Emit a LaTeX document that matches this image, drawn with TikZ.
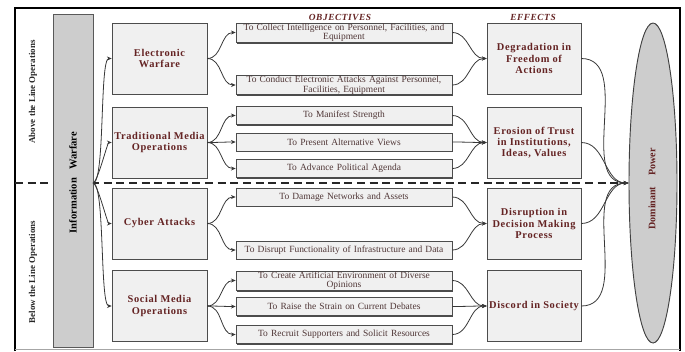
\documentclass[tikz,border=0pt]{standalone}
\usepackage{fontspec}
\setmainfont{Liberation Serif}
\newfontfamily\spacedfont[LetterSpace=6]{Liberation Serif}
\usetikzlibrary{shapes.geometric,shadows,arrows.meta}
\definecolor{boxfill}{RGB}{240,240,240}
\definecolor{iwfill}{RGB}{205,205,205}
\definecolor{labelred}{RGB}{100,35,35}
\definecolor{objtext}{RGB}{80,55,55}
\definecolor{wire}{RGB}{55,55,55}
\begin{document}
\begin{tikzpicture}[
  x=0.75pt, y=-0.75pt,
  catbox/.style={draw=black!70, fill=boxfill, minimum width=71.25pt, minimum height=53.25pt,
    inner sep=1pt, align=center, text=labelred, font=\spacedfont\fontsize{7.8}{8.4}\selectfont\bfseries},
  effbox/.style={catbox, minimum width=70.5pt},
  objbox/.style={draw=black!70, fill=boxfill, minimum width=162pt, minimum height=13.5pt,
    inner sep=0.5pt, text width=160pt, align=center, text=objtext,
    font=\fontsize{7.1}{7.1}\selectfont,
    drop shadow={shadow xshift=1.1pt, shadow yshift=-1.1pt, fill=black!70, opacity=1}},
  heading/.style={text=labelred, font=\spacedfont\fontsize{7}{8}\selectfont\bfseries\itshape},
  sidelabel/.style={rotate=90, text=black!85, font=\fontsize{6.7}{8}\selectfont\bfseries},
  wire/.style={draw=wire, line width=0.6pt, -{Stealth[length=3.6pt,width=3pt]}},
  divider/.style={black!85, line width=0.9pt, dash pattern=on 6pt off 3.5pt}
]
  \useasboundingbox (0,0) rectangle (685,351);
  % frame
  \draw[line width=1.6pt] (15,351) |- (680,8) -- (680,351);
  \draw[black!35, line width=0.6pt] (15,349) -- (680,349);

  % dividing line between the two halves
  \coordinate (lineL) at (15,183);
  \coordinate (lineR) at (626,183);
  \draw[divider] (lineL) -- (lineR);

  \node[sidelabel] (above) at (33,92) {Above the Line Operations};
  \node[sidelabel] (below) at (33,272) {Below the Line Operations};

  \node[draw=black!65, fill=iwfill, minimum width=30pt, minimum height=249.75pt] (iw) at (73,180.5) {};
  \node[rotate=90, font=\fontsize{7.9}{9}\selectfont\bfseries] (iwtext) at (73,182.5)
    {Information\hspace{0.8em}Warfare};
  \coordinate (fork) at (93,183);

  \node[heading] (objh) at (340,17) {OBJECTIVES};
  \node[heading] (effh) at (533,17) {EFFECTS};

  % categories
  \node[catbox] (ew) at (159.5,58.5) {Electronic\\Warfare};
  \node[catbox] (tm) at (159.5,142.5) {Traditional Media\\Operations};
  \node[catbox] (ca) at (159.5,223.5) {Cyber Attacks};
  \node[catbox] (sm) at (159.5,306) {Social Media\\Operations};

  % objectives
  \node[objbox] (o1) at (344,32.5) {To Collect Intelligence on Personnel, Facilities, and\\Equipment};
  \node[objbox] (o2) at (344,85) {To Conduct Electronic Attacks Against Personnel,\\Facilities, Equipment};
  \node[objbox] (o3) at (344,115.5) {To Manifest Strength};
  \node[objbox] (o4) at (344,142) {To Present Alternative Views};
  \node[objbox] (o5) at (344,168.5) {To Advance Political Agenda};
  \node[objbox] (o6) at (344,197) {To Damage Networks and Assets};
  \node[objbox] (o7) at (344,250) {To Disrupt Functionality of Infrastructure and Data};
  \node[objbox] (o8) at (344,280.5) {To Create Artificial Environment of Diverse\\Opinions};
  \node[objbox] (o9) at (344,306.5) {To Raise the Strain on Current Debates};
  \node[objbox] (o10) at (344,334.5) {To Recruit Supporters and Solicit Resources};

  % effects
  \node[effbox] (dg) at (534,58.5) {Degradation in\\Freedom of\\Actions};
  \node[effbox] (er) at (534,142.5) {Erosion of Trust\\in Institutions,\\Ideas, Values};
  \node[effbox] (dr) at (534,223.5) {Disruption in\\Decision Making\\Process};
  \node[effbox] (dc) at (534,306) {Discord in Society};

  \node[ellipse, draw=black!75, line width=0.7pt, fill=iwfill, minimum width=36pt, minimum height=240pt] (dp) at (653,183) {};
  \node[rotate=90, text=labelred, font=\fontsize{7.5}{9}\selectfont\bfseries] (dptext) at (652,189)
    {Dominant\hspace{1.1em}Power};

  \foreach \c in {ew,tm,ca,sm}
    \draw[wire] (fork) to[out=0,in=180,looseness=0.25] (\c.west);
  \foreach \c/\o in {ew/o1,ew/o2,tm/o3,tm/o4,tm/o5,ca/o6,ca/o7,sm/o8,sm/o9,sm/o10}
    \draw[wire] (\c.east) to[out=0,in=180] (\o.west);
  \foreach \o/\e in {o1/dg,o2/dg,o3/er,o4/er,o5/er,o6/dr,o7/dr,o8/dc,o9/dc,o10/dc}
    \draw[wire] (\o.east) to[out=0,in=180] (\e.west);
  \foreach \e in {dg,er,dr,dc}
    \draw[wire] (\e.east) to[out=0,in=180] (dp.west);
\end{tikzpicture}
\end{document}
